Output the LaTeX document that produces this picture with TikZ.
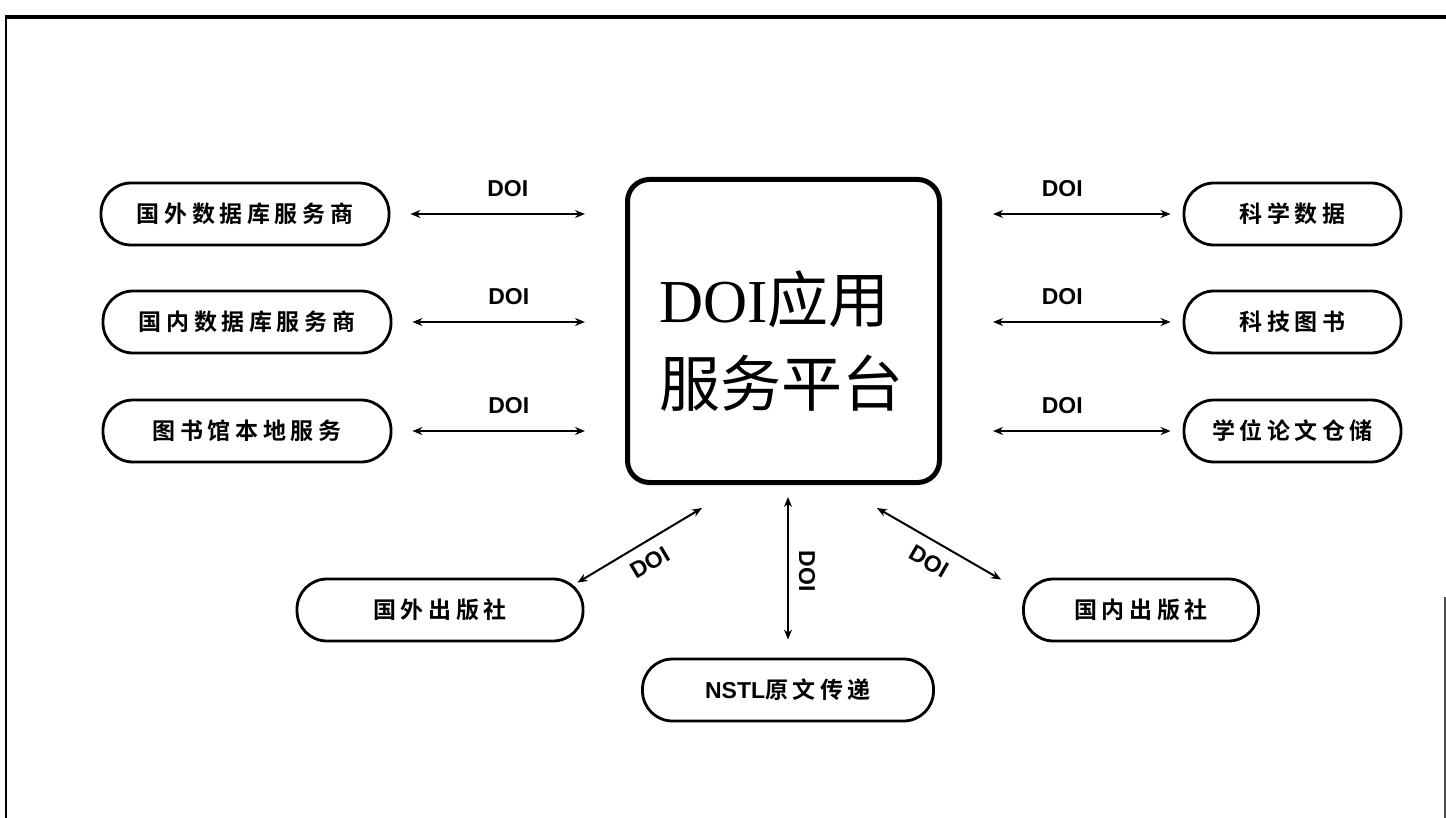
\documentclass[tikz,border=0pt]{standalone}
\usepackage{fontspec}
\setmainfont{Liberation Sans}
\newfontfamily\latserif{Liberation Serif}
\newfontfamily\cjk{Noto Sans CJK SC}
\newfontfamily\cjkb{Noto Sans CJK SC}[BoldFont={* Bold},LetterSpace=20]
\usetikzlibrary{arrows.meta}
\begin{document}
\begin{tikzpicture}[x=1pt,y=-1pt,
  pill/.style={draw, line width=2.8pt, rounded corners=30pt, minimum height=62pt,
    inner sep=0pt, font=\fontsize{23}{26}\selectfont\bfseries\cjkb},
  centerbox/.style={draw, line width=5pt, rounded corners=22pt,
    minimum width=312pt, minimum height=303pt, inner sep=0pt},
  dbl/.style={line width=2pt, {Stealth[length=10pt,width=8pt]}-{Stealth[length=10pt,width=8pt]}},
  doilab/.style={font=\fontsize{23}{26}\selectfont\bfseries, inner sep=0pt}
]
\useasboundingbox (0,0) rectangle (1446,818);
% frame lines
\draw[line width=3.5pt] (5,17) -- (1446,17);
\draw[line width=2pt] (6,15) -- (6,818);
\draw[line width=1.2pt, black!70] (1445,597) -- (1445,818);

% center box
\node[centerbox] (C) at (783.5,331) {};
\node[align=left, inner sep=0pt, font=\fontsize{61}{84}\selectfont] (CT) at (781,341)
  {{\latserif DOI}{\cjk 应用}\\{\cjk 服务平台}};

% left boxes
\node[pill, minimum width=288pt] (L1) at (245,214) {国外数据库服务商};
\node[pill, minimum width=288pt] (L2) at (247,322) {国内数据库服务商};
\node[pill, minimum width=288pt] (L3) at (247,431) {图书馆本地服务};
% right boxes
\node[pill, minimum width=217pt] (R1) at (1292.5,214) {科学数据};
\node[pill, minimum width=217pt] (R2) at (1292.5,322) {科技图书};
\node[pill, minimum width=217pt] (R3) at (1292.5,431) {学位论文仓储};
% bottom boxes
\node[pill, minimum width=286pt] (B1) at (440,610) {国外出版社};
\node[pill, minimum width=235pt] (B3) at (1141,610) {国内出版社};
\node[pill, minimum width=291pt] (N) at (788,690) {{\fontspec{Liberation Sans}\bfseries NSTL}原文传递};

% horizontal connectors
\foreach \b in {L1,L2,L3}{
  \draw[dbl, shorten <=20pt, shorten >=40pt] (\b.east) -- (C.west |- \b.east)
    node[midway, above=16pt, doilab] {DOI};
}
\foreach \b in {R1,R2,R3}{
  \draw[dbl, shorten <=51pt, shorten >=12pt] (C.east |- \b.west) -- (\b.west)
    node[midway, above=16pt, doilab] {DOI};
}

% bottom connectors
\coordinate (p1) at ([xshift=77pt,yshift=-23pt]C.south west);
\coordinate (q1) at ([xshift=-7pt,yshift=-5pt]B1.north east);
\draw[dbl] (q1) -- (p1) node[midway, sloped, below=11pt, doilab] {DOI};

\draw[dbl, shorten <=12pt, shorten >=18pt] (N.north |- C.south) -- (N.north)
  node[midway, sloped, above=10pt, doilab] {DOI};

\coordinate (p3) at ([xshift=-65pt,yshift=-23pt]C.south east);
\coordinate (q3) at ([xshift=-21pt,yshift=-2pt]B3.north west);
\draw[dbl] (p3) -- (q3) node[midway, sloped, below=11pt, doilab] {DOI};
\end{tikzpicture}
\end{document}
